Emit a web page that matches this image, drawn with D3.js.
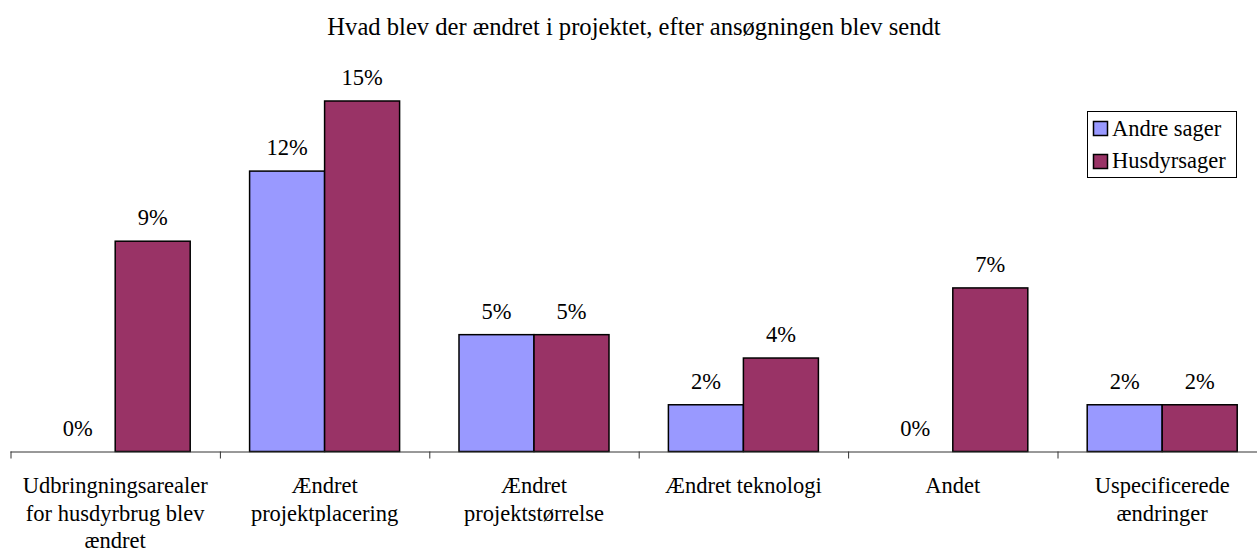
<!DOCTYPE html>
<html>
<head>
<meta charset="utf-8">
<script src="https://cdn.jsdelivr.net/npm/d3@7"></script>
<style>
  body { margin: 0; background: #fff; }
  text { font-family: "Liberation Serif", "Times New Roman", serif; fill: #000; }
</style>
</head>
<body>
<div id="chart"></div>
<script>
// data
const categories = [
  ["Udbringningsarealer", "for husdyrbrug blev", "ændret"],
  ["Ændret", "projektplacering"],
  ["Ændret", "projektstørrelse"],
  ["Ændret teknologi"],
  ["Andet"],
  ["Uspecificerede", "ændringer"]
];
const seriesNames = ["Andre sager", "Husdyrsager"];
const andreSager = [0, 0.12, 0.05, 0.02, 0, 0.02];
const husdyrsager = [0.09, 0.15, 0.05, 0.04, 0.07, 0.02];
const colors = ["#9999ff", "#993366"];

const width = 1257, height = 552;
const baseY = 451.5;
const fontSize = "22.5px";

const svg = d3.select("#chart")
  .append("svg")
  .attr("width", width)
  .attr("height", height);

// title
svg.append("text")
  .attr("x", 634)
  .attr("y", 35)
  .attr("text-anchor", "middle")
  .style("font-size", "24.6px")
  .text("Hvad blev der ændret i projektet, efter ansøgningen blev sendt");

const idx = d3.range(categories.length);

// Scales
const x0 = d3.scaleBand()
  .domain(idx)
  .range([10.5, 10.5 + 6 * 209.4])
  .padding(0);

const x1 = d3.scaleBand()
  .domain(seriesNames)
  .range([0, x0.bandwidth()])
  .paddingInner(0)
  .paddingOuter(0.396);

const y = d3.scaleLinear()
  .domain([0, 0.15])
  .range([baseY, 101]);

const edge = d3.scaleLinear()
  .domain([0, 6])
  .range(x0.range());

// Bars
const rows = idx.map(i => [andreSager[i], husdyrsager[i]]);

const groups = svg.selectAll("g.cat")
  .data(rows)
  .enter()
  .append("g")
  .attr("class", "cat")
  .attr("transform", (d, i) => `translate(${x0(i)},0)`);

groups.selectAll("rect")
  .data(d => d.map((v, j) => ({ v, s: seriesNames[j], j })))
  .enter()
  .filter(d => d.v > 0)
  .append("rect")
  .attr("x", d => x1(d.s))
  .attr("y", d => y(d.v))
  .attr("width", x1.bandwidth())
  .attr("height", d => baseY - y(d.v))
  .attr("fill", d => colors[d.j])
  .attr("stroke", "#000")
  .attr("stroke-width", 1.5);

groups.selectAll("text.val")
  .data(d => d.map((v, j) => ({ v, s: seriesNames[j], j })))
  .enter()
  .append("text")
  .attr("class", "val")
  .attr("x", d => x1(d.s) + x1.bandwidth() / 2)
  .attr("y", d => y(d.v) - 16)
  .attr("text-anchor", "middle")
  .style("font-size", fontSize)
  .text(d => d3.format(".0%")(d.v));

// Axis
const axis = svg.append("g")
  .attr("transform", `translate(0,${baseY})`)
  .call(d3.axisBottom(edge)
    .tickValues(d3.range(7))
    .tickFormat("")
    .tickSize(7)
    .tickSizeOuter(0));
axis.select(".domain").attr("stroke", "#333").attr("d", `M10.5,0.5H${width}`);
axis.selectAll(".tick line").attr("stroke", "#333");

// Category labels
const labels = svg.selectAll("text.cat")
  .data(categories)
  .enter()
  .append("text")
  .attr("class", "cat")
  .attr("text-anchor", "middle")
  .style("font-size", fontSize);

labels.selectAll("tspan")
  .data((d, i) => d.map(line => ({ line, i })))
  .enter()
  .append("tspan")
  .attr("x", d => x0(d.i) + x0.bandwidth() / 2)
  .attr("y", (d, k) => 493 + k * 27.5)
  .text(d => d.line);

// Legend
const legend = svg.append("g").attr("transform", "translate(1087,111)");
legend.append("rect")
  .attr("x", 0.5).attr("y", 0.5)
  .attr("width", 149).attr("height", 66)
  .attr("fill", "#fff")
  .attr("stroke", "#000");

seriesNames.forEach((name, j) => {
  legend.append("rect")
    .attr("x", 6.5)
    .attr("y", 10.5 + j * 33)
    .attr("width", 14)
    .attr("height", 14)
    .attr("fill", colors[j])
    .attr("stroke", "#000")
    .attr("stroke-width", 1.5);
  legend.append("text")
    .attr("x", 25)
    .attr("y", 25 + j * 32)
    .style("font-size", fontSize)
    .text(name);
});
</script>
</body>
</html>
